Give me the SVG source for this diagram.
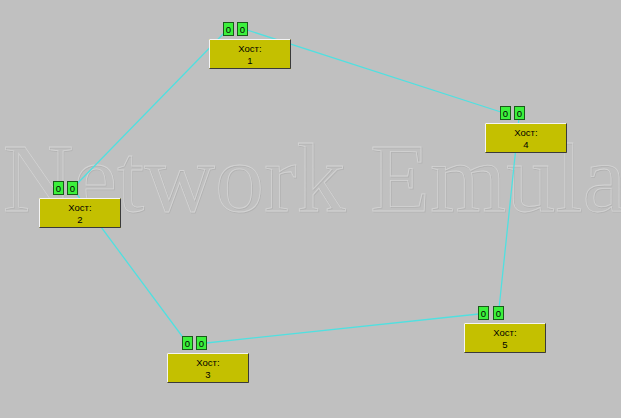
<svg xmlns="http://www.w3.org/2000/svg" width="621" height="418" viewBox="0 0 621 418">
<style>
.wm{font-family:"Liberation Serif","Times New Roman",serif;font-size:98px;fill:none;stroke-width:0.8}
.box{fill:#c4c000}
.hi{fill:none;stroke:#f4f4f4;stroke-width:1}
.lo{fill:none;stroke:#3a3a3a;stroke-width:1}
.port{fill:#3cf03c;stroke:#1a5a1a;stroke-width:1}
.pt{font-family:"Liberation Sans",Arial,sans-serif;font-size:9.5px;fill:#000;text-anchor:middle}
.lbl{font-family:"Liberation Sans",Arial,sans-serif;font-size:9.5px;fill:#000;text-anchor:middle}
.conn{stroke:#50e0e0;stroke-width:1.3;fill:none}
</style>
<rect width="621" height="418" fill="#c0c0c0"/>
<g id="watermark">
<text class="wm" x="3.5" y="211.5" stroke="#b2b2b2">Network Emula</text>
<text class="wm" x="2.7" y="210.7" stroke="#d4d4d4">Network Emula</text>
</g>
<g id="connectors">
<line class="conn" x1="228.5" y1="28.5" x2="72.5" y2="188.5"/>
<line class="conn" x1="242.5" y1="28.5" x2="505.5" y2="113.5"/>
<line class="conn" x1="519.5" y1="113.5" x2="498.5" y2="313.5"/>
<line class="conn" x1="483.5" y1="313.5" x2="201.5" y2="343.5"/>
<line class="conn" x1="187.5" y1="343.5" x2="72.5" y2="188.5"/>
</g>
<g id="node1" transform="translate(209,39)">
<rect class="box" x="0" y="0" width="82" height="30"/>
<polyline class="hi" points="0.5,29.5 0.5,0.5 81.5,0.5"/>
<polyline class="lo" points="0.5,29.5 81.5,29.5 81.5,0.5"/>
<rect class="port" x="14.5" y="-16.5" width="10" height="13"/><text class="pt" x="19.5" y="-6.5">0</text>
<rect class="port" x="28.5" y="-16.5" width="10" height="13"/><text class="pt" x="33.5" y="-6.5">0</text>
<text class="lbl" x="41" y="12.5">Хост:</text><text class="lbl" x="41" y="24.5">1</text>
</g>
<g id="node2" transform="translate(39,198)">
<rect class="box" x="0" y="0" width="82" height="30"/>
<polyline class="hi" points="0.5,29.5 0.5,0.5 81.5,0.5"/>
<polyline class="lo" points="0.5,29.5 81.5,29.5 81.5,0.5"/>
<rect class="port" x="14.5" y="-16.5" width="10" height="13"/><text class="pt" x="19.5" y="-6.5">0</text>
<rect class="port" x="28.5" y="-16.5" width="10" height="13"/><text class="pt" x="33.5" y="-6.5">0</text>
<text class="lbl" x="41" y="12.5">Хост:</text><text class="lbl" x="41" y="24.5">2</text>
</g>
<g id="node3" transform="translate(167,353)">
<rect class="box" x="0" y="0" width="82" height="30"/>
<polyline class="hi" points="0.5,29.5 0.5,0.5 81.5,0.5"/>
<polyline class="lo" points="0.5,29.5 81.5,29.5 81.5,0.5"/>
<rect class="port" x="15.5" y="-16.5" width="10" height="13"/><text class="pt" x="20.5" y="-6.5">0</text>
<rect class="port" x="29.5" y="-16.5" width="10" height="13"/><text class="pt" x="34.5" y="-6.5">0</text>
<text class="lbl" x="41" y="12.5">Хост:</text><text class="lbl" x="41" y="24.5">3</text>
</g>
<g id="node4" transform="translate(485,123)">
<rect class="box" x="0" y="0" width="82" height="30"/>
<polyline class="hi" points="0.5,29.5 0.5,0.5 81.5,0.5"/>
<polyline class="lo" points="0.5,29.5 81.5,29.5 81.5,0.5"/>
<rect class="port" x="15.5" y="-16.5" width="10" height="13"/><text class="pt" x="20.5" y="-6.5">0</text>
<rect class="port" x="29.5" y="-16.5" width="10" height="13"/><text class="pt" x="34.5" y="-6.5">0</text>
<text class="lbl" x="41" y="12.5">Хост:</text><text class="lbl" x="41" y="24.5">4</text>
</g>
<g id="node5" transform="translate(464,323)">
<rect class="box" x="0" y="0" width="82" height="30"/>
<polyline class="hi" points="0.5,29.5 0.5,0.5 81.5,0.5"/>
<polyline class="lo" points="0.5,29.5 81.5,29.5 81.5,0.5"/>
<rect class="port" x="14.5" y="-16.5" width="10" height="13"/><text class="pt" x="19.5" y="-6.5">0</text>
<rect class="port" x="29.5" y="-16.5" width="10" height="13"/><text class="pt" x="34.5" y="-6.5">0</text>
<text class="lbl" x="41" y="12.5">Хост:</text><text class="lbl" x="41" y="24.5">5</text>
</g>
</svg>
